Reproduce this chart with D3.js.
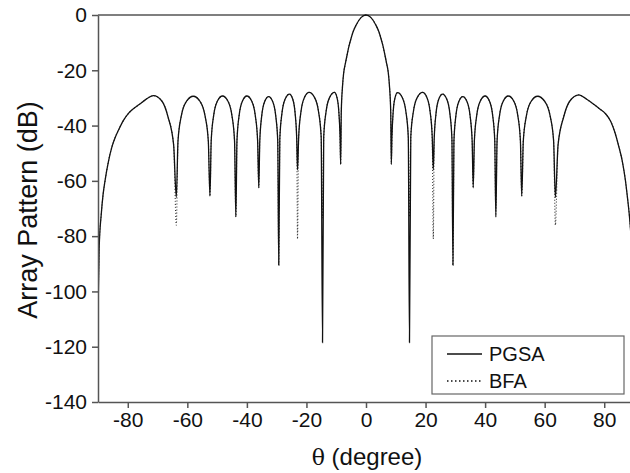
<!DOCTYPE html>
<meta charset="utf-8">
<style>

body {
  margin: 0;
  font-family: "Liberation Sans", Arial, sans-serif;
  background: #fff;
}

svg {
  display: block;
}

.axis text {
  font-size: 21px;
  fill: #111;
}

.axis path,
.axis line {
  stroke: #555;
  stroke-width: 1.5px;
}

.curve {
  fill: none;
}

</style>
<body>

<script src="https://cdn.jsdelivr.net/npm/d3@7"></script>
<script>

var theta = [
  -90, -89.6, -88.9, -88.3, -87.6, -86.5, -85.3, -84.2, -83.1, -81.5, -79.7, -78, -76.3, -74, -71.4,
  -68.5, -66.5, -64.6, -63.7,
  -63.13, -61.99, -60.28, -58.0, -55.76, -54.08, -52.96, -52.4,
  -51.98, -51.14, -49.88, -48.2, -46.4, -45.05, -44.15, -43.7,
  -43.33, -42.59, -41.48, -40.0, -38.4, -37.2, -36.4, -36.0,
  -35.67, -35.01, -34.02, -32.7, -31.34, -30.32, -29.64, -29.3,
  -28.94, -28.22, -27.14, -25.7, -24.62, -23.81, -23.27, -23.0,
  -22.61, -21.83, -20.66, -19.1, -17.3, -15.95, -15.05, -14.6,
  -14.2, -13.4, -12.2, -10.6, -9.76, -9.13, -8.71, -8.5,
  -8.3, -7.9, -7.5, -6.9, -6.3, -5.7, -5.0, -4.3, -3.3, -1.6, 0,
  1.6, 3.3, 4.3, 5.0, 5.7, 6.3, 6.9, 7.5, 7.9, 8.3, 8.5,
  8.71, 9.13, 9.76, 10.6, 12.2, 13.4, 14.2, 14.6,
  15.04, 15.92, 17.24, 19.0, 20.44, 21.52, 22.24, 22.6,
  22.91, 23.53, 24.46, 25.7, 27.1, 28.15, 28.85, 29.2,
  29.53, 30.19, 31.18, 32.5, 33.9, 34.95, 35.65, 36.0,
  36.4, 37.2, 38.4, 40.0, 41.44, 42.52, 43.24, 43.6,
  44.02, 44.86, 46.12, 47.8, 49.6, 50.95, 51.85, 52.3,
  52.83, 53.89, 55.48, 57.6, 60.0, 61.8, 63.0, 63.6,
  64.5, 66.4, 68.4, 71.5, 74, 76.6, 78.5, 80.5, 82.2, 83.6, 84.9, 86.1, 87.1, 87.8, 88.4, 89.2, 90
];

// PGSA pattern (dB)
var pgsa = [
  -108, -84, -72, -65, -59.7, -53, -47.6, -44.2, -41.6, -38.2, -35.5, -33.8, -32.5, -30.6, -29.2,
  -31.2, -36.8, -47, -66,
  -45.5, -36.3, -31.2, -29.4, -31.2, -36.3, -45.5, -65.5,
  -45.4, -36.2, -31.1, -29.3, -31.1, -36.2, -45.4, -73,
  -45.4, -36.2, -31.1, -29.3, -31.1, -36.2, -45.4, -62.5,
  -45.6, -36.4, -31.3, -29.5, -31.3, -36.4, -45.6, -90.5,
  -44.7, -35.5, -30.4, -28.6, -30.4, -35.5, -44.7, -56,
  -44.1, -34.9, -29.8, -28.0, -29.8, -34.9, -44.1, -118.5,
  -44.1, -34.9, -29.8, -28.0, -29.8, -34.9, -44.1, -54,
  -35, -26, -21, -17.4, -14.2, -11.2, -8.4, -6.0, -3.6, -0.85, 0,
  -0.85, -3.6, -6.0, -8.4, -11.2, -14.2, -17.4, -21, -26, -35, -54,
  -44.2, -35.0, -29.9, -28.1, -29.9, -35.0, -44.2, -118.5,
  -44.1, -34.9, -29.8, -28.0, -29.8, -34.9, -44.1, -56,
  -44.7, -35.5, -30.4, -28.6, -30.4, -35.5, -44.7, -90.5,
  -45.6, -36.4, -31.3, -29.5, -31.3, -36.4, -45.6, -62.5,
  -45.4, -36.2, -31.1, -29.3, -31.1, -36.2, -45.4, -73,
  -45.4, -36.2, -31.1, -29.3, -31.1, -36.2, -45.4, -65.5,
  -45.5, -36.3, -31.2, -29.4, -31.2, -36.3, -45.5, -66,
  -47, -36.8, -31.2, -28.9, -30.4, -32.4, -34, -35.8, -38.5, -42.5, -47.6, -53, -59.7, -66, -72, -84, -108
];

// BFA pattern (dB)
var bfa = [
  -108, -84, -72, -65, -59.7, -53, -47.6, -44.2, -41.6, -38.2, -35.5, -33.8, -32.5, -30.6, -29.2,
  -31.2, -36.8, -47, -76,
  -45.5, -36.3, -31.2, -29.4, -31.2, -36.3, -45.5, -65.5,
  -45.4, -36.2, -31.1, -29.3, -31.1, -36.2, -45.4, -73,
  -45.4, -36.2, -31.1, -29.3, -31.1, -36.2, -45.4, -62.5,
  -45.6, -36.4, -31.3, -29.5, -31.3, -36.4, -45.6, -90.5,
  -44.7, -35.5, -30.4, -28.6, -30.4, -35.5, -44.7, -81,
  -44.1, -34.9, -29.8, -28.0, -29.8, -34.9, -44.1, -73.5,
  -44.1, -34.9, -29.8, -28.0, -29.8, -34.9, -44.1, -54,
  -35, -26, -21, -17.4, -14.2, -11.2, -8.4, -6.0, -3.6, -0.85, 0,
  -0.85, -3.6, -6.0, -8.4, -11.2, -14.2, -17.4, -21, -26, -35, -54,
  -44.2, -35.0, -29.9, -28.1, -29.9, -35.0, -44.2, -73,
  -44.1, -34.9, -29.8, -28.0, -29.8, -34.9, -44.1, -81,
  -44.7, -35.5, -30.4, -28.6, -30.4, -35.5, -44.7, -90.5,
  -45.6, -36.4, -31.3, -29.5, -31.3, -36.4, -45.6, -62.5,
  -45.4, -36.2, -31.1, -29.3, -31.1, -36.2, -45.4, -73,
  -45.4, -36.2, -31.1, -29.3, -31.1, -36.2, -45.4, -65.5,
  -45.5, -36.3, -31.2, -29.4, -31.2, -36.3, -45.5, -76,
  -47, -36.8, -31.2, -28.9, -30.4, -32.4, -34, -35.8, -38.5, -42.5, -47.6, -53, -59.7, -66, -72, -84, -108
];

var xTicks = [-80, -60, -40, -20, 0, 20, 40, 60, 80];
var yTicks = [0, -20, -40, -60, -80, -100, -120, -140];
var seriesNames = ["PGSA", "BFA"];

var width = 630,
    height = 473,
    plotLeft = 98,
    plotTop = 15,
    plotRight = 634,
    plotBottom = 402;

var svg = d3.select("body")
    .append("svg")
    .attr("width", width)
    .attr("height", height);

var x = d3.scaleLinear()
    .domain([-90, 90])
    .range([plotLeft, plotRight]);

var y = d3.scaleLinear()
    .domain([-140, 0])
    .range([plotBottom, plotTop]);

svg.append("clipPath")
    .attr("id", "plot")
  .append("rect")
    .attr("x", plotLeft)
    .attr("y", plotTop - 2)
    .attr("width", width - plotLeft)
    .attr("height", plotBottom - plotTop + 2);

// top frame line
svg.append("line")
    .attr("x1", plotLeft)
    .attr("x2", width)
    .attr("y1", plotTop)
    .attr("y2", plotTop)
    .style("stroke", "#555")
    .style("stroke-width", 1.5);

var line = d3.line()
    .curve(d3.curveMonotoneX)
    .x(function(d) { return x(d[0]); })
    .y(function(d) { return y(d[1]); });

var curves = svg.append("g")
    .attr("clip-path", "url(#plot)");

curves.append("path")
    .attr("class", "curve")
    .attr("d", line(d3.zip(theta, bfa)))
    .style("stroke", "#333")
    .style("stroke-width", 1.1)
    .style("stroke-dasharray", "1,2");

curves.append("path")
    .attr("class", "curve")
    .attr("d", line(d3.zip(theta, pgsa)))
    .style("stroke", "#111")
    .style("stroke-width", 1.3);

// plain hyphen minus, as in the original figure
var plain = function(d) { return String(d); };

svg.append("g")
    .attr("class", "axis")
    .attr("transform", "translate(" + plotLeft + ",0)")
    .call(d3.axisLeft(y).tickValues(yTicks).tickFormat(plain)
      .tickSize(6).tickPadding(5).tickSizeOuter(0));

svg.append("g")
    .attr("class", "axis")
    .attr("transform", "translate(0," + plotBottom + ")")
    .call(d3.axisBottom(x).tickValues(xTicks).tickFormat(plain)
      .tickSize(6).tickPadding(4).tickSizeOuter(0));

// axis titles
svg.append("text")
    .attr("transform", "translate(37,210) rotate(-90)")
    .attr("text-anchor", "middle")
    .style("font-size", "27px")
    .style("fill", "#111")
    .text("Array Pattern (dB)");

var xt = svg.append("text")
    .attr("x", 367)
    .attr("y", 465)
    .attr("text-anchor", "middle")
    .style("font-size", "24px")
    .style("fill", "#111");
xt.append("tspan")
    .style("font-family", "'DejaVu Serif', serif")
    .style("font-size", "22px")
    .text("θ");
xt.append("tspan")
    .text(" (degree)");

// legend
var legend = svg.append("g")
    .attr("transform", "translate(432,336)");

legend.append("rect")
    .attr("width", 192)
    .attr("height", 58)
    .style("fill", "#fff")
    .style("stroke", "#666")
    .style("stroke-width", 1.2);

legend.selectAll("line")
    .data(seriesNames)
    .enter()
    .append("line")
    .attr("x1", 15)
    .attr("x2", 50)
    .attr("y1", function(d, i) { return 18 + i * 27; })
    .attr("y2", function(d, i) { return 18 + i * 27; })
    .style("stroke", "#111")
    .style("stroke-width", 1.3)
    .style("stroke-dasharray", function(d, i) { return i ? "1.5,2.5" : null; });

legend.selectAll("text")
    .data(seriesNames)
    .enter()
    .append("text")
    .attr("x", 57)
    .attr("y", function(d, i) { return 25 + i * 27; })
    .style("font-size", "20px")
    .style("fill", "#111")
    .text(function(d) { return d; });

</script>

</body>
